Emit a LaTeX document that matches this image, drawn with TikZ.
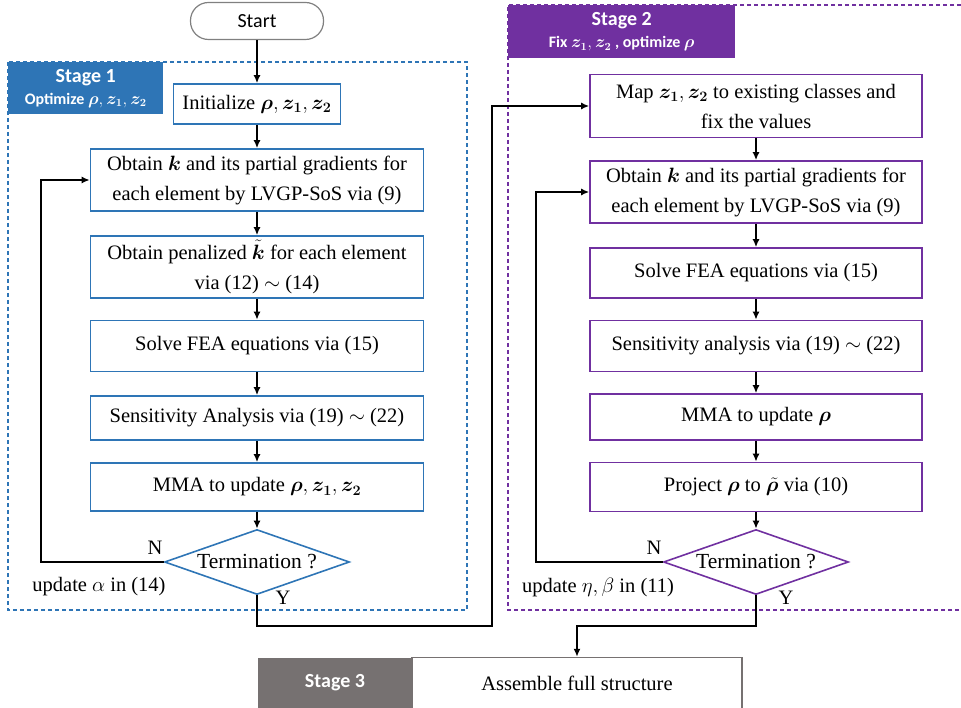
\documentclass[tikz,border=0pt]{standalone}
\usepackage{amsmath,bm}
\usepackage{fontspec}
\setmainfont{Liberation Serif}
\newfontfamily\calibri{Carlito}
\usepackage{tikz}
\usetikzlibrary{positioning,arrows.meta,shapes.geometric}
\definecolor{stageblue}{RGB}{46,117,182}
\definecolor{stagepurple}{RGB}{112,48,160}
\definecolor{stagegray}{RGB}{118,113,113}

\begin{document}
\begin{tikzpicture}[x=1pt, y=-1pt, on grid,
    every node/.style={font=\fontsize{20.5}{30}\selectfont},
    box1/.style={draw=stageblue, line width=1.6pt, minimum width=333pt, align=center},
    box2/.style={draw=stagepurple, line width=1.6pt, minimum width=332pt, align=center},
    check/.style={diamond, draw, line width=1.6pt, aspect=2.8, inner sep=0pt,
        minimum width=185pt, minimum height=65pt, font=\fontsize{21.5}{26}\selectfont},
    flow/.style={-{Latex[length=8pt,width=7pt]}, line width=2pt},
    frame/.style={dash pattern=on 4pt off 3pt, line width=1.3pt},
    tag/.style={fill, text=white, align=center, anchor=north west, inner sep=0pt,
        font=\calibri\bfseries\fontsize{20}{24}\selectfont}]

    \useasboundingbox (0,0) rectangle (961,708);

    % frames of the two stages
    \draw[frame, stageblue] (8,62) rectangle (467,610);
    \draw[frame, stagepurple] (961,5) -- (508,5) -- (508,610) -- (961,610);
    \node[tag, fill=stageblue, minimum width=155pt, minimum height=52pt] (tag1) at (8,62)
        {Stage 1\\[-2pt] {\fontsize{16}{19}\selectfont Optimize $\bm{\rho}, \bm{z_1}, \bm{z_2}$}};
    \node[tag, fill=stagepurple, minimum width=227pt, minimum height=53pt] (tag2) at (508,5)
        {Stage 2\\[-2pt] {\fontsize{16}{19}\selectfont Fix $\bm{z_1}, \bm{z_2}$ , optimize $\bm{\rho}$}};

    \node[draw=gray, line width=1.2pt, rounded corners=18pt, minimum width=133pt,
        minimum height=37pt, font=\calibri\fontsize{20}{24}\selectfont] (start) at (257,21) {Start};

    % stage 1
    \node[box1, minimum width=167pt, minimum height=40pt] (init) at (257,104)
        {Initialize $\bm{\rho}, \bm{z_1}, \bm{z_2}$};
    \node[box1, minimum height=62pt, below=76pt of init] (obtain1)
        {Obtain $\bm{k}$ and its partial gradients for\\ each element by LVGP-SoS via (9)};
    \node[box1, minimum height=62pt, below=87pt of obtain1] (penal)
        {Obtain penalized $\tilde{\bm{k}}$ for each element\\ via (12) $\sim$ (14)};
    \node[box1, minimum height=51pt, below=79pt of penal] (fea1) {Solve FEA equations via (15)};
    \node[box1, minimum height=44pt, below=72pt of fea1] (sens1) {Sensitivity Analysis via (19) $\sim$ (22)};
    \node[box1, minimum height=48pt, below=69pt of sens1] (mma1) {MMA to update $\bm{\rho}, \bm{z_1}, \bm{z_2}$};
    \node[check, draw=stageblue, below=75pt of mma1] (term1) {Termination ?};
    \node (n1) at (155,548) {N};
    \node (y1) at (283,598) {Y};
    \node (alpha) at (99,587) {update $\alpha$ in (14)};

    % stage 2
    \node[box2, minimum height=63pt] (map) at (756,106)
        {Map $\bm{z_1}, \bm{z_2}$ to existing classes and\\ fix the values};
    \node[box2, minimum height=62pt, below=86pt of map] (obtain2)
        {Obtain $\bm{k}$ and its partial gradients for\\ each element by LVGP-SoS via (9)};
    \node[box2, minimum height=50pt, below=81pt of obtain2] (fea2) {Solve FEA equations via (15)};
    \node[box2, minimum height=51pt, below=73pt of fea2] (sens2) {Sensitivity analysis via (19) $\sim$ (22)};
    \node[box2, minimum height=46pt, below=71pt of sens2] (mma2) {MMA to update $\bm{\rho}$};
    \node[box2, minimum height=49pt, below=70pt of mma2] (proj)
        {Project $\bm{\rho}$ to $\tilde{\bm{\rho}}$ via (10)};
    \node[check, draw=stagepurple, below=75pt of proj] (term2) {Termination ?};
    \node (n2) at (654,548) {N};
    \node (y2) at (786,598) {Y};
    \node (eta) at (598,587) {update $\eta, \beta$ in (11)};

    % stage 3
    \node[fill=stagegray, text=white, minimum width=154pt, minimum height=51pt,
        font=\calibri\bfseries\fontsize{20}{24}\selectfont] (tag3) at (335,683) {Stage 3};
    \node[draw=stagegray, line width=1.4pt, minimum width=330pt, minimum height=51pt] (final)
        at (577,683) {Assemble full structure};

    \path[flow]
        (start) edge (init)
        (init) edge (obtain1)
        (obtain1) edge (penal)
        (penal) edge (fea1)
        (fea1) edge (sens1)
        (sens1) edge (mma1)
        (mma1) edge (term1)
        (map) edge (obtain2)
        (obtain2) edge (fea2)
        (fea2) edge (sens2)
        (sens2) edge (mma2)
        (mma2) edge (proj)
        (proj) edge (term2);

    \draw[flow] (term1.west) -| ([xshift=-49pt]obtain1.west) -- (obtain1.west);
    \draw[flow] (term1.south) -- ++(0,31) -| ([xshift=-97pt]map.west) -- (map.west);
    \draw[flow] (term2.west) -| ([xshift=-53pt]obtain2.west) -- (obtain2.west);
    \draw[flow] (term2.south) -- ++(0,31) -| (final.north);

\end{tikzpicture}
\end{document}
